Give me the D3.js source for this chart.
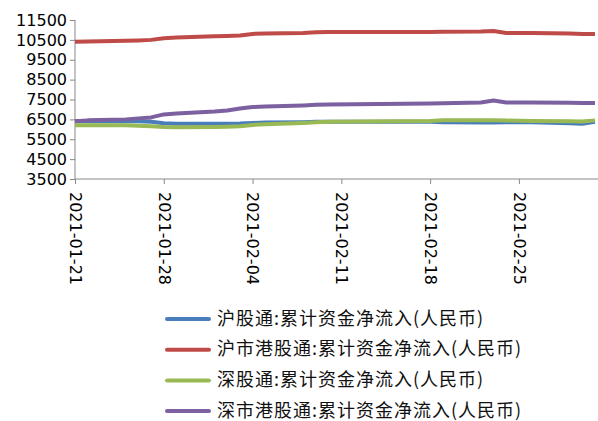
<!DOCTYPE html>
<html lang="zh">
<head>
<meta charset="UTF-8">
<title>累计资金净流入</title>
<script src="https://cdn.jsdelivr.net/npm/d3@7"></script>
<style>
  body { margin: 0; background: #fff; }
  .axis path, .axis line { stroke: #898989; }
  .axis text { font-family: "DejaVu Sans", sans-serif; font-size: 16px; fill: #000; }
  .legend text { font-family: "Noto Sans CJK SC", sans-serif; font-size: 18px; letter-spacing: 1px; fill: #111; }
</style>
</head>
<body>
<svg width="598" height="421"></svg>
<script>
// 交易日
const dates = ["2021-01-21","2021-01-22","2021-01-25","2021-01-26","2021-01-27","2021-01-28","2021-01-29",
  "2021-02-01","2021-02-02","2021-02-03","2021-02-04","2021-02-05","2021-02-08","2021-02-09","2021-02-10",
  "2021-02-18","2021-02-19","2021-02-22","2021-02-23","2021-02-24","2021-02-25","2021-02-26",
  "2021-03-01","2021-03-02","2021-03-03"];

const hgt  = [6400,6400,6400,6400,6380,6300,6280,6280,6280,6290,6320,6340,6360,6380,6380,6380,6350,6340,6340,6350,6360,6360,6300,6280,6380];
const hkSh = [10400,10420,10450,10470,10500,10580,10620,10680,10700,10720,10800,10820,10850,10880,10890,10900,10910,10920,10950,10850,10850,10850,10820,10800,10800];
const sgt  = [6200,6200,6200,6180,6150,6120,6110,6120,6130,6150,6220,6260,6320,6350,6380,6420,6450,6450,6450,6440,6430,6420,6400,6390,6450];
const hkSz = [6400,6450,6500,6550,6600,6750,6800,6900,6950,7050,7120,7150,7200,7230,7250,7300,7310,7350,7450,7350,7350,7350,7340,7330,7330];

const yTicks = [3500,4500,5500,6500,7500,8500,9500,10500,11500];
const xTicks = ["2021-01-21","2021-01-28","2021-02-04","2021-02-11","2021-02-18","2021-02-25"];

const series = [
  { name: "沪股通:累计资金净流入(人民币)", values: hgt, color: "#4a7ebb" },
  { name: "沪市港股通:累计资金净流入(人民币)", values: hkSh, color: "#be4b48" },
  { name: "深股通:累计资金净流入(人民币)", values: sgt, color: "#98b954" },
  { name: "深市港股通:累计资金净流入(人民币)", values: hkSz, color: "#7d60a0" }
];

const parse = d3.timeParse("%Y-%m-%d");
const fmt = d3.timeFormat("%Y-%m-%d");
const svg = d3.select("svg");

const x = d3.scaleTime()
  .domain([parse("2021-01-21"), parse("2021-03-03")])
  .range([75, 595]);
const y = d3.scaleLinear()
  .domain([3500, 11500])
  .range([179, 20]);

// y 轴
svg.append("g")
  .attr("class", "axis")
  .attr("transform", "translate(75,0)")
  .call(d3.axisLeft(y).tickValues(yTicks).tickSize(5).tickPadding(3).tickFormat(d3.format("d")))
  .call(g => g.select(".domain").attr("d", "M0,20V179"));

// x 轴
svg.append("g")
  .attr("class", "axis")
  .attr("transform", "translate(0,179)")
  .call(d3.axisBottom(x).tickValues(xTicks.map(parse)).tickSize(5).tickFormat(fmt))
  .call(g => g.select(".domain").attr("d", "M75,0H598"))
  .selectAll("text")
  .attr("transform", "rotate(90)")
  .attr("text-anchor", "start")
  .attr("x", 13)
  .attr("y", 0)
  .attr("dy", "0.35em");

// 折线
const line = d3.line()
  .x((d, i) => x(parse(dates[i])))
  .y(d => y(d));

svg.append("g").selectAll("path")
  .data(series)
  .join("path")
  .attr("fill", "none")
  .attr("stroke", d => d.color)
  .attr("stroke-width", 4)
  .attr("stroke-linejoin", "round")
  .attr("d", d => line(d.values));

// 图例
const legend = svg.append("g").attr("class", "legend");
const item = legend.selectAll("g")
  .data(series)
  .join("g")
  .attr("transform", (d, i) => `translate(167,${319 + i * 30.7})`);
item.append("line")
  .attr("x1", 0).attr("x2", 42)
  .attr("stroke", d => d.color)
  .attr("stroke-width", 4)
  .attr("stroke-linecap", "round");
item.append("text")
  .attr("x", 50)
  .attr("dy", "0.32em")
  .text(d => d.name);
</script>
</body>
</html>
